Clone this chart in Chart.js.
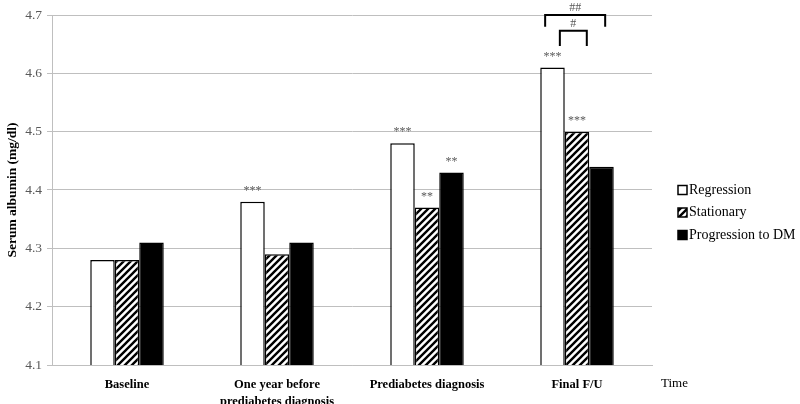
<!DOCTYPE html>
<html>
<head>
<meta charset="utf-8">
<script src="https://cdn.jsdelivr.net/npm/chart.js@4"></script>
<style>
  html, body { margin: 0; padding: 0; background: #fff; }
  #wrap { width: 800px; height: 404px; }
</style>
</head>
<body>
<div id="wrap"><canvas id="albumin-chart" width="800" height="404"></canvas></div>
<script>
// data
const categories = ["Baseline", ["One year before", "prediabetes diagnosis"], "Prediabetes diagnosis", "Final F/U"];
const seriesNames = ["Regression", "Stationary", "Progression to DM"];
const regression = [4.28, 4.38, 4.48, 4.61];
const stationary = [4.28, 4.29, 4.37, 4.50];
const progression = [4.31, 4.31, 4.43, 4.44];
const sigRegression = ["", "***", "***", "***"];
const sigStationary = ["", "", "**", "***"];
const sigProgression = ["", "", "**", ""];
const yTicks = [4.1, 4.2, 4.3, 4.4, 4.5, 4.6, 4.7];
// brackets on the last group: [from bar pos, to bar pos, top value, leg value, label]
const brackets = [
    [-0.3, 2.15, 4.70, 4.68, "##"],
    [0.3, 1.4, 4.673, 4.647, "#"]
];

function stripes() {
    const c = document.createElement("canvas");
    c.width = 7; c.height = 7;
    const g = c.getContext("2d");
    g.fillStyle = "#fff";
    g.fillRect(0, 0, 7, 7);
    g.strokeStyle = "#000";
    g.lineWidth = 2.4;
    g.beginPath();
    g.moveTo(-1, 8); g.lineTo(8, -1);
    g.moveTo(-1, 1); g.lineTo(1, -1);
    g.moveTo(6, 8); g.lineTo(8, 6);
    g.stroke();
    return g.createPattern(c, "repeat");
}

const serif = "'Liberation Serif', 'Times New Roman', serif";

const fills = ["#ffffff", stripes(), "#000000"];
const sigs = [sigRegression, sigStationary, sigProgression];

const extras = {
    id: "extras",
    afterDatasetsDraw(chart) {
        const ctx = chart.ctx;
        const y = chart.scales.y;
        ctx.save();
        // significance stars
        ctx.fillStyle = "#595959";
        ctx.font = "12px " + serif;
        ctx.textAlign = "center";
        ctx.textBaseline = "bottom";
        sigs.forEach((arr, di) => {
            const meta = chart.getDatasetMeta(di);
            arr.forEach((s, i) => {
                if (!s) return;
                const bar = meta.data[i];
                ctx.fillText(s, bar.x, bar.y - 5);
            });
        });
        // brackets
        const last = categories.length - 1;
        const x0 = chart.getDatasetMeta(0).data[last].x;
        const x1 = chart.getDatasetMeta(1).data[last].x;
        const step = x1 - x0;
        ctx.strokeStyle = "#000";
        ctx.lineWidth = 2;
        brackets.forEach(b => {
            const xa = x0 + b[0] * step, xb = x0 + b[1] * step;
            const yt = y.getPixelForValue(b[2]), yl = y.getPixelForValue(b[3]);
            ctx.beginPath();
            ctx.moveTo(xa, yl); ctx.lineTo(xa, yt); ctx.lineTo(xb, yt); ctx.lineTo(xb, yl);
            ctx.stroke();
            ctx.fillText(b[4], (xa + xb) / 2, yt - 1);
        });
        // legend
        const area = chart.chartArea;
        ctx.font = "14px " + serif;
        ctx.textAlign = "left";
        ctx.textBaseline = "middle";
        seriesNames.forEach((n, i) => {
            const ly = 190 + i * 22.5;
            const lx = 678;
            ctx.fillStyle = fills[i];
            ctx.fillRect(lx, ly - 4.5, 9, 9);
            ctx.lineWidth = 1.5;
            ctx.strokeStyle = "#000";
            ctx.strokeRect(lx, ly - 4.5, 9, 9);
            ctx.fillStyle = "#000";
            ctx.fillText(n, lx + 11, ly);
        });
        // time label
        ctx.fillStyle = "#000";
        ctx.font = "13px " + serif;
        ctx.textBaseline = "middle";
        ctx.fillText("Time", area.right + 9, area.bottom + 19);
        ctx.restore();
    }
};

const ctx = document.getElementById("albumin-chart").getContext("2d");

const data = {
    labels: categories,
    datasets: [
        { label: seriesNames[0], data: regression, backgroundColor: fills[0] },
        { label: seriesNames[1], data: stationary, backgroundColor: fills[1] },
        { label: seriesNames[2], data: progression, backgroundColor: fills[2] }
    ]
};
data.datasets.forEach(d => {
    d.borderColor = "#000";
    d.borderWidth = 1.5;
    d.borderSkipped = "bottom";
    d.barPercentage = 1;
    d.categoryPercentage = 0.49;
});

const options = {
    responsive: false,
    animation: false,
    layout: { padding: { top: 15, right: 148, bottom: 0, left: 0 } },
    plugins: { legend: { display: false }, tooltip: { enabled: false } },
    scales: {
        x: {
            grid: { display: false },
            border: { color: "#bfbfbf", width: 1 },
            ticks: { color: "#000", font: { family: serif, size: 12.5, weight: "bold", lineHeight: 1.35 }, padding: 3, maxRotation: 0, autoSkip: false },
            afterFit(scale) { scale.height = 39; }
        },
        y: {
            min: 4.1,
            max: 4.7,
            afterBuildTicks(scale) { scale.ticks = yTicks.map(v => ({ value: v })); },
            grid: { color: "#bfbfbf", lineWidth: 1, tickLength: 5 },
            border: { color: "#bfbfbf", width: 1 },
            ticks: { color: "#595959", font: { family: serif, size: 13.5 }, padding: 5, callback: v => v.toFixed(1) },
            title: { display: true, text: "Serum albumin (mg/dl)", color: "#000", font: { family: serif, size: 13.5, weight: "bold" }, padding: { top: 4, bottom: 0 } },
            afterFit(scale) { scale.width = 52; }
        }
    }
};

const albuminChart = new Chart(ctx, {
    type: "bar",
    data: data,
    options: options,
    plugins: [extras]
});
</script>
</body>
</html>
